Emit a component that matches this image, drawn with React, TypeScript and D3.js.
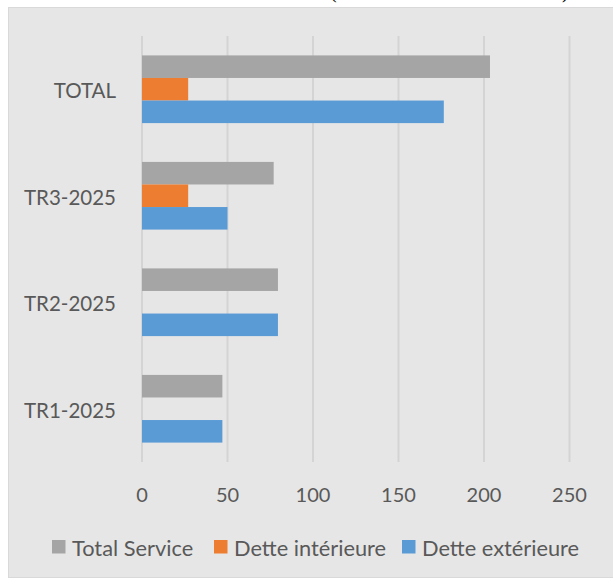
import * as d3 from "d3";

// categories top to bottom
const categories = ["TOTAL", "TR3-2025", "TR2-2025", "TR1-2025"];
const seriesNames = ["Total Service", "Dette intérieure", "Dette extérieure"];
const totalService = [203.5, 77, 79.5, 47];
const detteInterieure = [27, 27, null, null];
const detteExterieure = [176.5, 50, 79.5, 47];
const xTicks = [0, 50, 100, 150, 200, 250];

const colors = ["#a5a5a5", "#ed7d31", "#5b9bd5"];
const font = "Lato, 'Open Sans', sans-serif";
const textColor = "#595959";

const App = () => {
    const width = 613, height = 581;
    const margin = { top: 36, right: 43.5, bottom: 119, left: 142 };

    const xScale = d3.scaleLinear()
        .domain([0, 250])
        .range([margin.left, width - margin.right]);

    const yScale = d3.scaleBand()
        .domain(categories)
        .range([margin.top, height - margin.bottom]);

    const inner = d3.scaleBand()
        .domain(seriesNames)
        .range([0, yScale.bandwidth()])
        .paddingInner(0)
        .paddingOuter(0.86);

    const allSeries = [totalService, detteInterieure, detteExterieure];

    const legendX = [52, 214, 402];

    return (
        <svg width={width} height={height} style={{ position: "absolute", left: 0, top: 0 }}>
            {/* bits of the document title above, cut off */}
            <text x={330} y={-2} fontFamily="'Liberation Serif', serif" fontSize={20} fill="#000">(</text>
            <text x={562} y={-2} fontFamily="'Liberation Serif', serif" fontSize={20} fill="#000">)</text>

            <rect x={8.5} y={7.5} width={700} height={570} fill="#e6e6e6" stroke="#d9d9d9" strokeWidth={1} />

            {/* grid */}
            {xTicks.map(t => (
                <line key={"g" + t}
                    x1={xScale(t)} x2={xScale(t)}
                    y1={margin.top} y2={height - margin.bottom}
                    stroke="#d4d4d4" strokeWidth={2} />
            ))}

            {/* bars */}
            {allSeries.map((values, si) => (
                <g key={"s" + si}>
                    {categories.map((c, ci) => values[ci] == null ? null : (
                        <rect key={c}
                            x={xScale(0)}
                            y={yScale(c) + inner(seriesNames[si])}
                            width={xScale(values[ci]) - xScale(0)}
                            height={inner.bandwidth()}
                            fill={colors[si]} />
                    ))}
                </g>
            ))}

            {/* category labels */}
            {categories.map(c => (
                <text key={"l" + c}
                    x={margin.left - 26}
                    y={yScale(c) + yScale.bandwidth() / 2 + 1}
                    textAnchor="end" dominantBaseline="central"
                    fontFamily={font} fontSize={20.5} fill={textColor}>{c}</text>
            ))}

            {/* x tick labels */}
            {xTicks.map(t => (
                <text key={"t" + t}
                    x={xScale(t)} y={494}
                    textAnchor="middle" dominantBaseline="central"
                    fontFamily={font} fontSize={20} fill={textColor}>{t}</text>
            ))}

            {/* legend */}
            {seriesNames.map((s, i) => (
                <g key={"lg" + s} transform={`translate(${legendX[i]},540)`}>
                    <rect x={0} y={0} width={13.5} height={13.5} fill={colors[i]} />
                    <text x={20} y={7} dominantBaseline="central"
                        fontFamily={font} fontSize={21.8} fill={textColor}>{s}</text>
                </g>
            ))}
        </svg>
    );
};

export default App;
